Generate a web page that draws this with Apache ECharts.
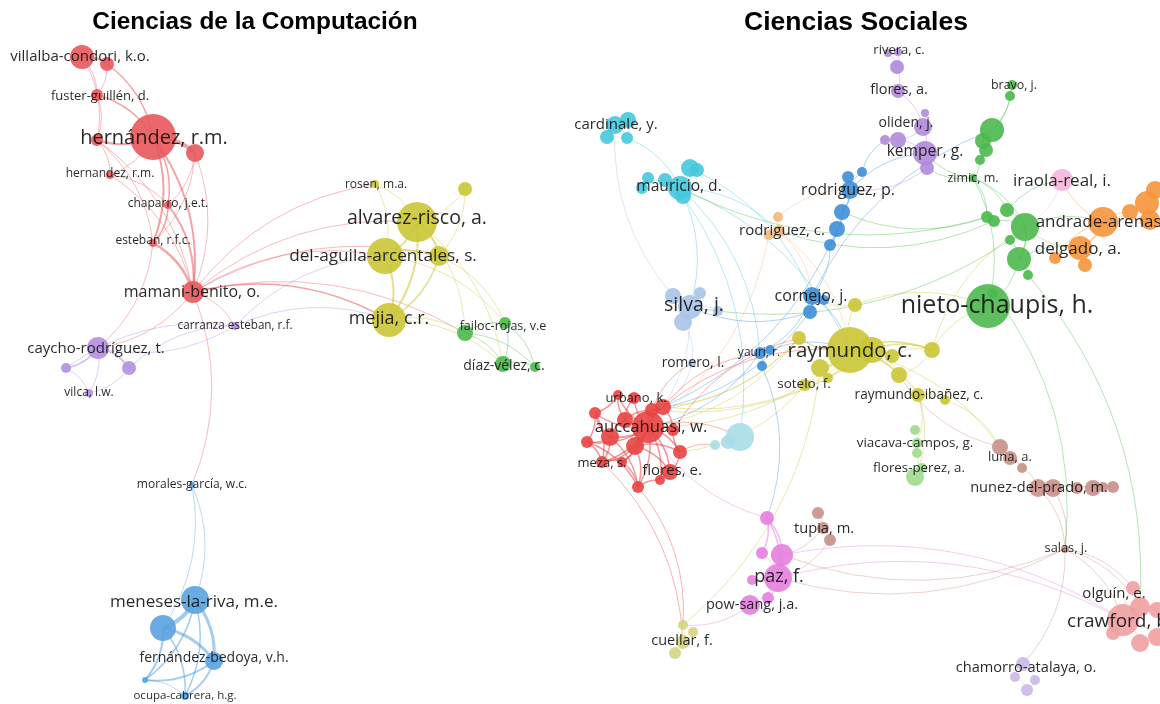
<!DOCTYPE html>
<html><head><meta charset="utf-8">
<script src="https://cdn.jsdelivr.net/npm/echarts@6/dist/echarts.min.js"></script>
<style>html,body{margin:0;padding:0;background:#fff}#c{width:1160px;height:704px}</style>
</head><body><div id="c"></div>
<script>
// Titles
const panelTitles = ['Ciencias de la Computación', 'Ciencias Sociales'];

// Cluster colours
const clusterColors = {
  Lred:'#e8585c', Lpurple:'#b48fe0', Lyellow:'#cbc636', Lgreen:'#4cb84c', Lblue:'#5aa2e0',
  cyan:'#46c8dc', orange2:'#f5b87a', blue:'#3d8fd8', lblue:'#a9c4e8', yellow:'#cbc636',
  lgreen:'#9ddc8e', brown:'#c89088', pink:'#e67fdf', olive:'#d4d482', red:'#e84444',
  lcyan:'#a8dde8', green:'#4cb84c', purple:'#b08ad8', lpink:'#f3b8dc', orange:'#f5953c',
  salmon:'#f0a0a0', lavender:'#cbb8e6'
};

// ---- Left panel: Ciencias de la Computación ----
// [id, x, y, radius, cluster]
const leftNodes = [
  ['r1',82,57,12,'Lred'],['r2',107,64,7,'Lred'],['r3',97,95,6,'Lred'],['r4',153,137,23,'Lred'],
  ['r5',195,153,9,'Lred'],['r6',97,140,6,'Lred'],['r7',110,175,4,'Lred'],['r8',168,205,4,'Lred'],
  ['r9',153,243,4,'Lred'],['r10',193,292,11,'Lred'],
  ['p1',235,326,4,'Lpurple'],['p2',98,348,11,'Lpurple'],['p3',66,368,5,'Lpurple'],['p4',129,368,7,'Lpurple'],['p5',89,393,4,'Lpurple'],
  ['y1',375,184,4,'Lyellow'],['y2',465,189,7,'Lyellow'],['y3',417,222,20,'Lyellow'],['y4',385,256,18,'Lyellow'],
  ['y5',439,256,10,'Lyellow'],['y6',389,320,17,'Lyellow'],
  ['g1',465,333,8,'Lgreen'],['g2',505,323,6,'Lgreen'],['g3',503,364,8,'Lgreen'],['g4',535,367,5,'Lgreen'],
  ['b1',192,485,3,'Lblue'],['b2',195,600,14,'Lblue'],['b3',163,628,13,'Lblue'],['b4',214,661,9,'Lblue'],
  ['b5',145,680,3,'Lblue'],['b6',185,696,4,'Lblue']
];
// [nodeId, text, fontSize, dx, dy]
const leftLabels = [
  ['r1','villalba-condori, k.o.',15,-2,0],['r3','fuster-guillén, d.',13,3,1],['r4','hernández, r.m.',20,1,1],
  ['r7','hernandez, r.m.',12,0,-1],['r8','chaparro, j.e.t.',12,0,-1],['r9','esteban, r.f.c.',12,0,-2],
  ['r10','mamani-benito, o.',16,-1,0],['p1','carranza esteban, r.f.',11.7,0,0],['p2','caycho-rodríguez, t.',15,-2,1],
  ['p5','vilca, l.w.',12,0,0],['y1','rosen, m.a.',12,1,1],['y3','alvarez-risco, a.',19.5,0,-4],
  ['y4','del-aguila-arcentales, s.',17.2,-2,0],['y6','mejia, c.r.',18,0,-1],['g2','failoc-rojas, v.e',12.5,-2,3],
  ['g3','díaz-vélez, c.',14,1,2],['b1','morales-garcía, w.c.',12,0,0],['b2','meneses-la-riva, m.e.',17,-1,2],
  ['b4','fernández-bedoya, v.h.',14,0,-3],['b6','ocupa-cabrera, h.g.',11.5,0,0]
];
// [source, target, width]
const leftLinks = [
  ['r1','r2',2],['r1','r3',1],['r2','r3',1],['r2','r4',1.5],['r3','r6',1],['r3','r4',1.5],['r4','r5',4],
  ['r4','r6',2],['r4','r7',1],['r4','r8',1.5],['r4','r9',2],['r4','r10',2],['r5','r8',1],['r5','r9',1],
  ['r6','r7',1],['r6','r9',1],['r7','r8',1],['r7','r10',1],['r8','r9',1.5],['r8','r10',2],['r9','r10',2.5],
  ['r6','r10',1],['r1','r6',1],['r5','r10',1],['r10','p2',1],['r10','p1',1],['r10','b1',1],['r10','y3',1],
  ['r10','y4',1],['r10','y6',1.5],['r10','y1',1],['r10','g1',1],['r10','y5',1],['r9','p2',1],
  ['p1','p2',1],['p2','p3',2],['p2','p4',2],['p2','p5',1],['p3','p5',1],['p4','p5',1],['p4','p1',1],['p3','p1',1],
  ['p1','y6',1],['p1','y4',1],
  ['y1','y3',1],['y1','y4',1],['y2','y3',1],['y3','y4',2],['y3','y5',2],['y3','y6',2],['y4','y5',1.5],
  ['y4','y6',2],['y5','y6',1.5],['y2','y5',1],['y3','g1',1],['y6','g1',1],['y4','g2',1],['y3','g3',1],
  ['y6','g3',1],['y5','g2',1],['g1','g2',1],['g1','g3',1],['g2','g3',1],['g2','g4',1],['g3','g4',1],['g1','g4',1],
  ['b1','b2',1],['b1','b3',1],['b2','b3',4],['b2','b4',3],['b3','b4',3],['b2','b5',1.5],['b3','b5',2],
  ['b4','b5',2],['b2','b6',1.5],['b4','b6',2],['b3','b6',1.5],['b5','b6',1]
];

// ---- Right panel: Ciencias Sociales ----
const rightNodes = [
  ['cy1',615,125,9,'cyan'],['cy2',628,120,8,'cyan'],['cy3',607,137,7,'cyan'],['cy4',627,138,6,'cyan'],
  ['cy5',680,188,12,'cyan'],['cy6',690,168,9,'cyan'],['cy7',697,170,7,'cyan'],['cy8',665,180,7,'cyan'],
  ['cy9',648,178,6,'cyan'],['cy10',642,188,6,'cyan'],['cy11',683,196,8,'cyan'],
  ['oc1',779,231,6,'orange2'],['oc2',778,217,5,'orange2'],['oc3',769,235,5,'orange2'],
  ['bl1',850,190,9,'blue'],['bl2',848,177,6,'blue'],['bl3',862,172,5,'blue'],['bl4',842,212,8,'blue'],
  ['bl5',837,229,8,'blue'],['bl6',830,245,6,'blue'],['bl7',812,296,9,'blue'],['bl8',810,312,7,'blue'],
  ['bl9',824,300,5,'blue'],['bl10',760,353,6,'blue'],['bl11',770,350,5,'blue'],['bl12',762,366,5,'blue'],
  ['lb1',690,307,12,'lblue'],['lb2',673,296,8,'lblue'],['lb3',700,293,6,'lblue'],['lb4',683,322,9,'lblue'],
  ['lb5',718,311,5,'lblue'],['lb6',692,363,4,'lblue'],
  ['ye1',850,350,23,'yellow'],['ye2',872,350,13,'yellow'],['ye3',892,356,7,'yellow'],['ye4',932,350,8,'yellow'],
  ['ye5',855,305,7,'yellow'],['ye6',799,338,7,'yellow'],['ye7',820,368,9,'yellow'],['ye8',899,375,8,'yellow'],
  ['ye9',918,395,7,'yellow'],['ye10',945,400,5,'yellow'],['ye11',805,385,6,'yellow'],['ye12',828,378,5,'yellow'],
  ['lg1',915,430,5,'lgreen'],['lg2',917,443,5,'lgreen'],['lg3',917,453,5,'lgreen'],['lg4',915,477,9,'lgreen'],
  ['lg5',922,468,5,'lgreen'],
  ['br1',1000,447,8,'brown'],['br2',1010,458,7,'brown'],['br3',1022,468,5,'brown'],['br4',1038,488,9,'brown'],
  ['br5',1053,488,9,'brown'],['br6',1077,488,6,'brown'],['br7',1093,488,8,'brown'],['br8',1103,487,5,'brown'],
  ['br9',1113,487,6,'brown'],['br10',1065,549,4,'brown'],['br11',818,513,6,'brown'],['br12',823,528,6,'brown'],
  ['br13',830,540,6,'brown'],
  ['pk1',767,518,7,'pink'],['pk2',762,553,6,'pink'],['pk3',782,555,11,'pink'],['pk4',778,578,14,'pink'],
  ['pk5',752,580,5,'pink'],['pk6',768,598,6,'pink'],['pk7',750,605,10,'pink'],
  ['ol1',683,625,5,'olive'],['ol2',693,632,5,'olive'],['ol3',683,642,7,'olive'],['ol4',675,653,6,'olive'],
  ['rd1',648,427,16,'red'],['rd2',635,446,9,'red'],['rd3',610,437,9,'red'],['rd4',625,420,8,'red'],
  ['rd5',663,407,8,'red'],['rd6',634,398,6,'red'],['rd7',618,395,5,'red'],['rd8',595,413,6,'red'],
  ['rd9',587,442,6,'red'],['rd10',602,462,6,'red'],['rd11',622,462,5,'red'],['rd12',670,472,8,'red'],
  ['rd13',680,452,7,'red'],['rd14',673,430,6,'red'],['rd15',638,487,6,'red'],['rd16',660,480,5,'red'],
  ['rd17',652,410,7,'red'],
  ['lc1',740,437,14,'lcyan'],['lc2',728,442,7,'lcyan'],['lc3',715,445,5,'lcyan'],
  ['gr1',988,306,22,'green'],['gr2',1012,85,5,'green'],['gr3',1010,96,5,'green'],['gr4',992,130,12,'green'],
  ['gr5',983,141,8,'green'],['gr6',986,150,7,'green'],['gr7',980,160,5,'green'],['gr8',973,178,4,'green'],
  ['gr9',1007,210,7,'green'],['gr10',987,217,6,'green'],['gr11',994,221,6,'green'],['gr12',1025,227,14,'green'],
  ['gr13',1010,240,5,'green'],['gr14',1019,259,12,'green'],['gr15',1028,275,5,'green'],['gr16',993,293,5,'green'],
  ['pu1',898,52,4,'purple'],['pu2',888,53,4,'purple'],['pu3',897,67,7,'purple'],['pu4',898,91,7,'purple'],
  ['pu5',925,113,4,'purple'],['pu11',923,127,9,'purple'],['pu7',898,140,8,'purple'],['pu8',885,140,5,'purple'],
  ['pu9',925,153,12,'purple'],['pu10',927,168,7,'purple'],
  ['lp1',1062,180,11,'lpink'],
  ['or1',1103,222,15,'orange'],['or2',1080,248,12,'orange'],['or3',1055,258,6,'orange'],['or4',1085,265,7,'orange'],
  ['or5',1130,212,8,'orange'],['or6',1147,203,12,'orange'],['or7',1155,190,9,'orange'],['or8',1150,220,10,'orange'],
  ['sa1',1123,620,16,'salmon'],['sa2',1133,588,7,'salmon'],['sa3',1140,607,10,'salmon'],['sa4',1140,643,9,'salmon'],
  ['sa5',1157,610,8,'salmon'],['sa6',1157,637,9,'salmon'],['sa7',1113,633,7,'salmon'],
  ['lv1',1023,664,7,'lavender'],['lv2',1015,677,5,'lavender'],['lv3',1035,680,5,'lavender'],['lv4',1027,690,6,'lavender']
];
const rightLabels = [
  ['cy1','cardinale, y.',15,1,0],['cy5','mauricio, d.',15.6,-1,-1],['oc1','rodriguez, c.',15,3,0],
  ['bl1','rodriguez, p.',16,-2,0],['bl7','cornejo, j.',16,-1,0],['bl10','yauri, r.',12,-1,0],
  ['lb1','silva, j.',19.5,4,-2],['lb6','romero, l.',13.8,1,0],['ye1','raymundo, c.',20.5,0,1],
  ['ye9','raymundo-ibañez, c.',13.6,1,0],['ye11','sotelo, f.',13.5,-1,-1],['lg2','viacava-campos, g.',13.4,-2,0],
  ['lg5','flores-perez, a.',13.3,-3,0],['br2','luna, a.',13,0,-1],['br4','nunez-del-prado, m.',14.6,1,0],
  ['br10','salas, j.',12.8,1,-1],['br12','tupia, m.',14.7,1,1],['pk4','paz, f.',18,1,-1],
  ['pk7','pow-sang, j.a.',14.5,2,0],['ol3','cuellar, f.',14.5,-1,-1],['rd1','auccahuasi, w.',16.7,3,0],
  ['rd6','urbano, k.',13,2,0],['rd10','meza, s.',13,0,1],['rd12','flores, e.',15,2,-1],
  ['gr1','nieto-chaupis, h.',25,9,0],['gr2','bravo, j.',12.4,2,0],['gr8','zimic, m.',12.5,0,0],
  ['pu1','rivera, c.',13,1,-2],['pu4','flores, a.',14.5,1,-1],['pu11','oliden, j.',14,-17,-4],
  ['pu9','kemper, g.',15.6,0,-1],['lp1','iraola-real, i.',17,0,1],['or1','andrade-arenas, a.',17,7,0],
  ['or2','delgado, a.',17,-2,1],['sa1','crawford, b.',19,-3,2],['sa2','olguín, e.',15,-19,6],
  ['lv1','chamorro-atalaya, o.',14.6,3,4]
];
const rightLinks = [
  ['cy1','cy2',1],['cy1','cy3',1],['cy1','cy4',1],['cy2','cy4',1],['cy4','cy5',1],['cy5','cy6',1],['cy5','cy7',1],
  ['cy5','cy8',1],['cy8','cy9',1],['cy9','cy10',1],['cy5','cy11',1],['cy5','oc1',1],['cy5','lb1',1],
  ['cy5','bl10',1],['cy11','lc1',1],['cy6','bl7',1],['cy5','ye1',1],
  ['oc1','oc2',1],['oc1','oc3',1],['oc2','bl1',1],['oc1','ye1',1],['oc3','rd1',1],['oc1','bl7',1],
  ['bl1','bl2',1],['bl1','bl3',1],['bl1','bl4',1.5],['bl4','bl5',1.5],['bl5','bl6',1.5],['bl6','bl7',1],
  ['bl7','bl8',1.5],['bl7','bl9',1],['bl7','ye1',1],['bl7','bl10',1],['bl8','lb1',1],['bl3','pu8',1],
  ['bl1','pu9',1],['bl10','bl11',1],['bl10','bl12',1],['bl10','rd1',1],['bl11','ye1',1],['bl12','pk1',1],
  ['bl7','gr4',1],['bl5','rd5',1],['bl8','rd17',1],
  ['lb1','lb2',1],['lb1','lb3',1],['lb1','lb4',1],['lb1','lb5',1],['lb4','lb6',1],['lb6','rd5',1],['lb1','rd1',1],
  ['lb2','cy1',1],
  ['ye1','ye2',2],['ye1','ye3',1.5],['ye1','ye4',1.5],['ye1','ye5',1],['ye1','ye6',1.5],['ye1','ye7',1.5],
  ['ye1','ye8',1.5],['ye1','ye9',1],['ye1','ye11',1],['ye1','ye12',1],['ye2','ye4',1.5],['ye2','ye8',1],
  ['ye3','ye4',1],['ye4','gr1',1],['ye5','gr1',1],['ye4','ye8',1],['ye8','ye9',1],['ye9','ye10',1],
  ['ye9','lg2',1],['ye9','lg4',1],['ye6','rd1',1],['ye6','rd5',1],['ye1','rd1',1],['ye2','rd17',1],
  ['ye11','rd13',1],['ye1','br1',1],['ye10','br1',1],['ye7','ol1',1],['ye4','gr12',1],['ye5','bl7',1],
  ['ye2','rd5',1],['ye6','rd17',1],
  ['lg1','lg2',1],['lg2','lg3',1],['lg3','lg4',1],['lg4','lg5',1],
  ['br1','br2',1],['br2','br3',1],['br3','br4',1],['br4','br5',1],['br5','br6',1],['br6','br7',1],
  ['br7','br8',1],['br8','br9',1],['br4','br10',1],['br5','br10',1],['br10','sa1',1],['br10','sa2',1],
  ['br10','sa3',1],['br10','lv1',1],['br10','pk4',1],['br10','pk3',1],['br11','br12',1],['br12','br13',1],
  ['br12','pk3',1],['br13','pk4',1],['br1','ye8',1],
  ['pk1','pk3',1.5],['pk1','pk2',1.5],['pk1','pk4',1.5],['pk2','pk4',1],['pk3','pk4',2],['pk4','pk5',1],
  ['pk4','pk6',1],['pk4','pk7',1],['pk6','pk7',1],['pk7','ol1',1],['pk1','rd1',1],['pk4','sa1',1],['pk3','sa1',1],
  ['ol1','ol2',1],['ol1','ol3',1],['ol3','ol4',1],['ol2','ol3',1],['rd15','ol1',1],['rd10','ol3',1],
  ['rd1','rd2',2],['rd1','rd3',2],['rd1','rd4',2],['rd1','rd5',2],['rd1','rd6',1.5],['rd1','rd7',1.5],
  ['rd1','rd8',1.5],['rd1','rd9',1.5],['rd1','rd10',1.5],['rd1','rd11',1.5],['rd1','rd12',1.5],['rd1','rd13',1.5],
  ['rd1','rd14',1.5],['rd1','rd15',1.5],['rd1','rd16',1.5],['rd1','rd17',1.5],['rd3','rd4',1.5],['rd3','rd8',1.5],
  ['rd3','rd9',1.5],['rd3','rd10',1.5],['rd2','rd10',1.5],['rd2','rd11',1.5],['rd2','rd12',1.5],['rd2','rd15',1.5],
  ['rd4','rd6',1.5],['rd4','rd7',1.5],['rd5','rd17',1.5],['rd5','rd14',1.5],['rd13','rd12',1.5],['rd13','rd14',1.5],
  ['rd9','rd10',1.5],['rd10','rd11',1.5],['rd11','rd15',1.5],['rd8','rd9',1.5],['rd7','rd8',1.5],['rd16','rd12',1.5],
  ['rd15','rd16',1.5],['rd3','rd15',1.5],['rd8','rd10',1.5],['rd4','rd17',1.5],['rd2','rd13',1.5],['rd9','rd15',1.5],
  ['rd5','bl10',1],['rd17','lb6',1],['rd1','lc1',1],['rd13','lc3',1],['rd5','ye1',1],['rd14','ye6',1],
  ['lc1','lc2',1],['lc2','lc3',1],
  ['gr2','gr3',1],['gr3','gr4',1],['gr2','gr4',1],['gr4','gr5',1],['gr5','gr6',1],['gr6','gr7',1],['gr7','gr8',1],
  ['gr8','gr9',1],['gr8','gr10',1],['gr8','gr12',1],['gr9','gr12',1],['gr10','gr11',1],['gr11','gr12',1],
  ['gr12','gr13',1],['gr13','gr14',1],['gr12','gr14',1.5],['gr14','gr15',1],['gr14','gr1',1],['gr1','gr16',1],
  ['gr8','pu9',1],['gr8','pu10',1],['gr8','gr1',1],['gr12','or1',1],['gr14','or2',1],['gr9','lp1',1],
  ['gr15','sa3',1],['gr10','bl4',1],['gr11','oc1',1],['gr13','lb1',1],['gr10','cy5',1],['gr16','br10',1],
  ['pu1','pu2',1],['pu1','pu3',1],['pu2','pu3',1],['pu3','pu4',1],['pu4','pu11',1],['pu5','pu11',1],
  ['pu11','pu9',1],['pu7','pu9',1],['pu8','pu7',1],['pu9','pu10',1],['pu11','pu7',1],['pu10','bl1',1],
  ['or1','or2',1.5],['or1','or5',1],['or5','or6',1],['or6','or7',1],['or6','or8',1],['or1','or8',1],
  ['or2','or3',1],['or2','or4',1],['or3','or1',1],['or1','lp1',1],['or2','gr12',1],
  ['lp1','gr12',1],
  ['sa1','sa2',1],['sa1','sa3',1],['sa1','sa4',1],['sa1','sa5',1],['sa1','sa6',1],['sa1','sa7',1],['sa3','sa5',1],
  ['sa4','sa6',1],['sa2','sa3',1],
  ['lv1','lv2',1],['lv1','lv3',1],['lv2','lv4',1],['lv3','lv4',1]
];

function buildSeries(nodes, labels, links) {
  const colorOf = {};
  nodes.forEach(n => { colorOf[n[0]] = clusterColors[n[4]]; });
  const labelOf = {};
  labels.forEach(l => { labelOf[l[0]] = l; });
  const data = nodes.map(n => {
    const l = labelOf[n[0]];
    return {
      name: n[0],
      value: [n[1], n[2]],
      symbolSize: n[3] * 2,
      itemStyle: { color: clusterColors[n[4]], opacity: 0.9 },
      label: l ? {
        show: true, formatter: l[1], position: 'inside', fontSize: l[2],
        offset: [l[3], l[4]], color: '#111111', fontFamily: 'Open Sans'
      } : { show: false }
    };
  });
  const edges = links.map(k => ({
    source: k[0], target: k[1],
    lineStyle: { color: colorOf[k[0]], width: k[2], opacity: k[2] > 1 ? 0.55 : 0.4, curveness: 0.2 }
  }));
  return {
    type: 'graph', coordinateSystem: 'cartesian2d', xAxisIndex: 0, yAxisIndex: 0,
    symbol: 'circle', data: data, links: edges, silent: true,
    emphasis: { disabled: true }, z: 2
  };
}

const chart = echarts.init(document.getElementById('c'), null, { renderer: 'canvas' });
chart.setOption({
  animation: false,
  backgroundColor: '#ffffff',
  title: [
    { text: panelTitles[0], left: 250, top: 5, textAlign: 'center',
      textStyle: { fontFamily: 'Liberation Sans', fontWeight: 'bold', fontSize: 24.4, color: '#000' } },
    { text: panelTitles[1], left: 851, top: 4, textAlign: 'center',
      textStyle: { fontFamily: 'Liberation Sans', fontWeight: 'bold', fontSize: 26.5, color: '#000' } }
  ],
  grid: { left: 0, right: 0, top: 0, bottom: 0 },
  xAxis: { type: 'value', min: 0, max: 1160, show: false },
  yAxis: { type: 'value', min: 0, max: 704, inverse: true, show: false },
  series: [
    buildSeries(leftNodes, leftLabels, leftLinks),
    buildSeries(rightNodes, rightLabels, rightLinks)
  ]
});
</script></body></html>
